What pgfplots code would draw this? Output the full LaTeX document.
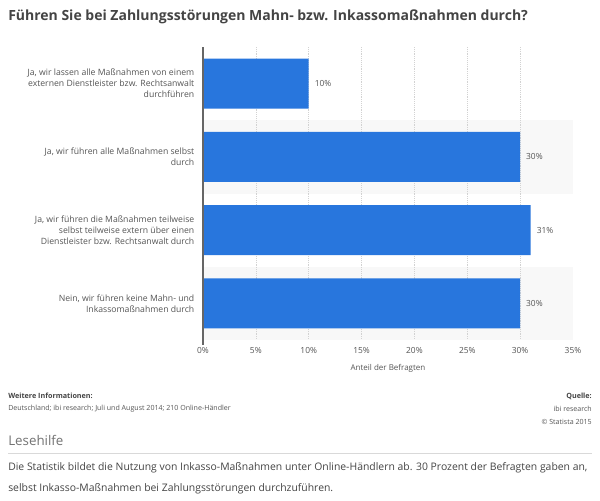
\documentclass[border=0pt]{standalone}
\usepackage{pgfplots}
\pgfplotsset{compat=1.18}
\usepackage{fontspec}
\setmainfont{Open Sans}
\definecolor{barblue}{RGB}{40,118,221}
\definecolor{titlegray}{RGB}{68,68,68}
\definecolor{labgray}{RGB}{85,85,85}
\definecolor{rowgray}{RGB}{248,248,248}
\definecolor{gridgray}{RGB}{210,210,210}
\begin{document}
\begin{tikzpicture}
\begin{scope}[x=0.75pt,y=-0.75pt]
\useasboundingbox[fill=white] (0,0) rectangle (600,500);
\node[anchor=west,font=\bfseries\fontsize{10.5}{12}\selectfont,text=titlegray,inner sep=0] at (8,17) {Führen Sie bei Zahlungsstörungen Mahn- bzw. Inkassomaßnahmen durch?};
\node[anchor=west,font=\bfseries\fontsize{5.4}{7}\selectfont,text=titlegray,inner sep=0] at (8,396) {Weitere Informationen:};
\node[anchor=west,font=\fontsize{5.3}{7}\selectfont,text=labgray,inner sep=0] at (8,409) {Deutschland; ibi research; Juli und August 2014; 210 Online-Händler};
\node[anchor=east,font=\bfseries\fontsize{5.4}{7}\selectfont,text=titlegray,inner sep=0] at (592,396) {Quelle:};
\node[anchor=east,font=\fontsize{5.3}{7}\selectfont,text=labgray,inner sep=0] at (592,409) {ibi research};
\node[anchor=east,font=\fontsize{5.3}{7}\selectfont,text=labgray,inner sep=0] at (592,422) {© Statista 2015};
\node[anchor=west,font=\fontsize{10}{12}\selectfont,text=gray!90!black,inner sep=0] at (8,440) {Lesehilfe};
\draw[gray!30, line width=0.6pt] (8,453) -- (592,453);
\node[anchor=west,font=\fontsize{7.8}{10}\selectfont,text=titlegray,inner sep=0] at (8,468) {Die Statistik bildet die Nutzung von Inkasso-Maßnahmen unter Online-Händlern ab. 30 Prozent der Befragten gaben an,};
\node[anchor=west,font=\fontsize{7.8}{10}\selectfont,text=titlegray,inner sep=0] at (8,489) {selbst Inkasso-Maßnahmen bei Zahlungsstörungen durchzuführen.};
\end{scope}
\begin{axis}[
  at={(152.25pt,-255pt)}, anchor=south west,
  scale only axis, width=277.5pt, height=219.75pt,
  axis on top,
  xbar, bar width=37.5pt,
  xmin=0, xmax=35, ymin=0.5, ymax=4.5, y dir=reverse,
  xtick={0,5,...,35},
  xticklabel={\pgfmathprintnumber{\tick}\%},
  ytick={1,2,3,4},
  yticklabels={{Ja, wir lassen alle Maßnahmen von einem\\externen Dienstleister bzw. Rechtsanwalt\\durchführen},
               {Ja, wir führen alle Maßnahmen selbst\\durch},
               {Ja, wir führen die Maßnahmen teilweise\\selbst teilweise extern über einen\\Dienstleister bzw. Rechtsanwalt durch},
               {Nein, wir führen keine Mahn- und\\Inkassomaßnahmen durch}},
  yticklabel style={align=right, font=\fontsize{6.5}{8.3}\selectfont, text=labgray, xshift=-3pt},
  xticklabel style={font=\fontsize{6.3}{7.5}\selectfont, text=labgray, yshift=-2pt},
  /pgf/number format/assume math mode=true,
  major tick length=0pt,
  axis x line*=bottom, x axis line style={draw=none},
  axis y line*=left, y axis line style={draw=gray!80!black, line width=0.8pt, shorten >=-4pt},
  xlabel={Anteil der Befragten},
  xlabel style={font=\fontsize{6}{7}\selectfont, text=labgray, yshift=-1pt},
  nodes near coords={\pgfmathprintnumber{\pgfplotspointmeta}\%},
  point meta=x,
  nodes near coords style={font=\fontsize{6.3}{7.5}\selectfont, text=labgray, anchor=west, xshift=1pt},
]
\fill[rowgray] (axis cs:0,1.5) rectangle (axis cs:35,2.5);
\fill[rowgray] (axis cs:0,3.5) rectangle (axis cs:35,4.5);
\draw[gridgray, densely dotted] (axis cs:5,0.5) -- (axis cs:5,4.5);
\draw[gridgray, densely dotted] (axis cs:10,0.5) -- (axis cs:10,4.5);
\draw[gridgray, densely dotted] (axis cs:15,0.5) -- (axis cs:15,4.5);
\draw[gridgray, densely dotted] (axis cs:20,0.5) -- (axis cs:20,4.5);
\draw[gridgray, densely dotted] (axis cs:25,0.5) -- (axis cs:25,4.5);
\draw[gridgray, densely dotted] (axis cs:30,0.5) -- (axis cs:30,4.5);
\draw[gridgray, densely dotted] (axis cs:35,0.5) -- (axis cs:35,4.5);
\addplot[fill=barblue, draw=none] coordinates {(10,1) (30,2) (31,3) (30,4)};
\end{axis}
\end{tikzpicture}
\end{document}
